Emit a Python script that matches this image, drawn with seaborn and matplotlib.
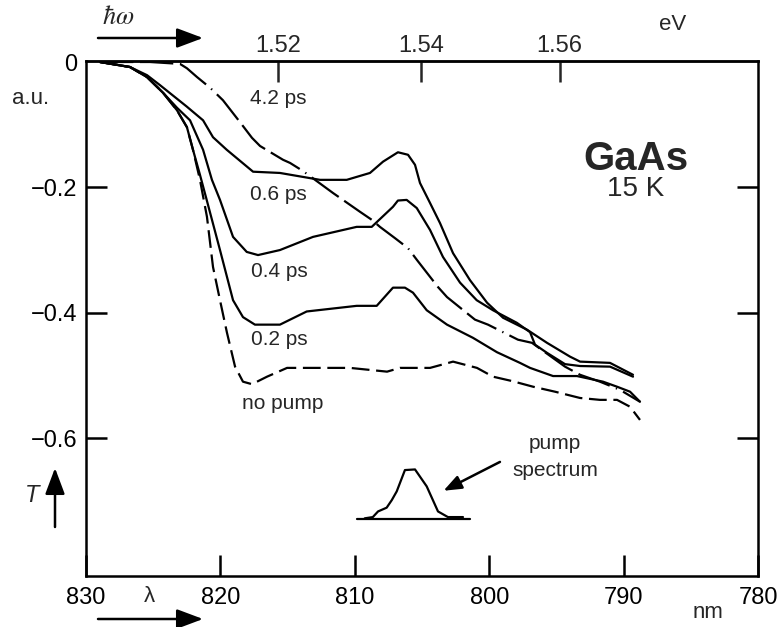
import matplotlib
matplotlib.use("Agg")
import matplotlib.pyplot as plt
from matplotlib.patches import FancyArrowPatch
import seaborn as sns
import pandas as pd

# Differential transmission spectra of GaAs at 15 K (wavelength in nm, T in a.u.)
wl_nopump = [828.96, 826.73, 825.46, 824.27, 823.23, 822.49, 822.04, 821.52, 821.00, 820.55,
             820.03, 819.51, 818.91, 818.32, 817.65, 816.53, 815.04, 812.59, 810.36, 807.60,
             806.64, 804.40, 802.69, 800.91, 799.72, 798.30, 796.74, 795.10, 793.24, 791.76,
             790.49, 789.52, 788.78]
t_nopump = [0.000, -0.008, -0.024, -0.049, -0.077, -0.104, -0.140, -0.188, -0.247, -0.327,
            -0.380, -0.432, -0.486, -0.510, -0.514, -0.502, -0.488, -0.488, -0.488, -0.494,
            -0.488, -0.488, -0.478, -0.488, -0.502, -0.509, -0.518, -0.526, -0.536, -0.539,
            -0.539, -0.550, -0.571]

wl_02 = [828.96, 826.73, 825.46, 824.27, 823.23, 822.49, 822.04, 821.52, 821.02, 820.03,
         819.06, 818.32, 817.43, 815.57, 813.58, 809.86, 808.37, 807.16, 806.27, 805.67,
         804.65, 803.14, 801.21, 799.42, 797.71, 796.96, 795.25, 793.47, 791.53, 790.49,
         789.52, 788.78]
t_02 = [0.000, -0.008, -0.024, -0.049, -0.077, -0.104, -0.140, -0.180, -0.220, -0.300,
        -0.380, -0.407, -0.419, -0.419, -0.398, -0.389, -0.389, -0.360, -0.360, -0.368,
        -0.396, -0.419, -0.440, -0.463, -0.480, -0.488, -0.501, -0.501, -0.510, -0.518,
        -0.526, -0.542]

wl_04 = [828.96, 826.73, 825.46, 824.27, 823.23, 822.26, 821.29, 820.63, 820.03, 819.06,
         818.04, 817.20, 815.57, 813.11, 809.86, 808.74, 807.16, 806.79, 806.14, 805.39,
         804.40, 803.44, 802.17, 800.93, 799.72, 797.95, 796.96, 796.59, 795.70, 794.36,
         793.24, 791.01, 789.30]
t_04 = [0.000, -0.008, -0.024, -0.049, -0.073, -0.093, -0.140, -0.188, -0.220, -0.279,
        -0.303, -0.308, -0.300, -0.279, -0.263, -0.263, -0.231, -0.221, -0.220, -0.233,
        -0.268, -0.311, -0.352, -0.380, -0.396, -0.416, -0.431, -0.451, -0.464, -0.482,
        -0.485, -0.486, -0.502]

wl_06 = [828.96, 826.73, 825.46, 824.49, 822.51, 821.29, 820.55, 819.53, 817.57, 815.57,
         812.59, 810.60, 808.87, 807.90, 806.79, 806.04, 805.52, 805.15, 804.40, 803.66,
         802.69, 801.43, 800.16, 798.97, 797.19, 795.70, 793.99, 793.24, 791.01, 789.30]
t_06 = [0.000, -0.008, -0.021, -0.037, -0.071, -0.093, -0.120, -0.140, -0.175, -0.177,
        -0.188, -0.188, -0.177, -0.159, -0.144, -0.148, -0.164, -0.193, -0.225, -0.257,
        -0.305, -0.348, -0.384, -0.408, -0.427, -0.448, -0.470, -0.478, -0.480, -0.499]

wl_42 = [828.96, 825.24, 823.01, 822.49, 821.74, 820.77, 819.81, 818.54, 817.65, 817.05,
         815.34, 814.82, 813.85, 811.62, 809.61, 808.72, 808.13, 807.01, 806.04, 805.37,
         803.81, 803.14, 801.06, 800.09, 797.86, 796.82, 794.36, 793.24, 791.76, 790.27,
         788.78]
t_42 = [0.000, 0.000, -0.003, -0.010, -0.024, -0.041, -0.061, -0.096, -0.121, -0.134,
        -0.156, -0.161, -0.174, -0.209, -0.239, -0.252, -0.263, -0.281, -0.297, -0.316,
        -0.359, -0.375, -0.411, -0.419, -0.443, -0.448, -0.486, -0.499, -0.510, -0.523,
        -0.542]

# Pump pulse spectrum, drawn on its own baseline
wl_pump = [809.26, 808.66, 808.27, 807.63, 807.25, 806.88, 806.27, 805.52, 804.65, 803.81,
           803.07, 801.95]
t_pump = [-0.728, -0.726, -0.717, -0.711, -0.699, -0.685, -0.651, -0.650, -0.677, -0.717,
          -0.726, -0.726]
wl_pump_base = [809.87, 801.43]
t_pump_base = [-0.729, -0.729]

curve_labels = ["4.2 ps", "0.6 ps", "0.4 ps", "0.2 ps", "no pump"]
label_wl = [815.7, 815.7, 815.6, 815.6, 815.4]
label_t = [-0.058, -0.212, -0.335, -0.443, -0.545]

x_ticks = [830, 820, 810, 800, 790, 780]
y_ticks = [0, -0.2, -0.4, -0.6]
ev_ticks = [1.52, 1.54, 1.56]

sns.set_theme(style="ticks")
plt.rcParams["font.family"] = ["Liberation Sans", "DejaVu Sans"]
plt.rcParams["mathtext.fontset"] = "stix"

W, H = 782, 627
fig = plt.figure(figsize=(W / 100, H / 100), dpi=100)
fig.patch.set_facecolor("white")
L, R, T_, B = 86, 758, 61, 576
ax = fig.add_axes([L / W, 1 - B / H, (R - L) / W, (B - T_) / H])
ax.set_facecolor("white")

lw = 1.6
series = [
    (wl_nopump, t_nopump, (0, (8, 3))),
    (wl_02, t_02, "-"),
    (wl_04, t_04, "-"),
    (wl_06, t_06, "-"),
    (wl_42, t_42, (0, (15, 3, 15, 3, 15, 3, 0.6, 3))),
    (wl_pump, t_pump, "-"),
    (wl_pump_base, t_pump_base, "-"),
]
for xs, ys, ls in series:
    df = pd.DataFrame({"wl": xs, "T": ys})
    sns.lineplot(data=df, x="wl", y="T", ax=ax, color="black", lw=lw,
                 linestyle=ls, sort=False, estimator=None, legend=False)

ax.set_xlim(830, 780)
ax.set_ylim(-0.820, 0.0016)
ax.set_xlabel("")
ax.set_ylabel("")
ax.set_xticks(x_ticks)
ax.set_xticklabels([str(v) for v in x_ticks])
ax.set_yticks(y_ticks)
ax.set_yticklabels(["0", "\u22120.2", "\u22120.4", "\u22120.6"])
ax.tick_params(axis="both", direction="in", length=15, width=1.8, labelsize=17,
               colors="black", pad=6, top=False, right=True)
ax.tick_params(axis="x", pad=8)
# the zero tick sits on the top frame line; keep only its label
zero_tick = ax.yaxis.get_major_ticks()[0]
zero_tick.tick1line.set_visible(False)
zero_tick.tick2line.set_visible(False)
for s in ax.spines.values():
    s.set_linewidth(1.8)
    s.set_color("black")

# photon energy scale on top
sec = ax.secondary_xaxis("top", functions=(lambda l: 1239.84 / l, lambda e: 1239.84 / e))
sec.set_xticks(ev_ticks)
sec.set_xticklabels(["1.52", "1.54", "1.56"])
sec.tick_params(direction="in", length=15, width=1.8, labelsize=17, pad=3)
sec.spines["top"].set_linewidth(1.8)

for lab, xw, yt in zip(curve_labels, label_wl, label_t):
    ax.text(xw, yt, lab, ha="center", va="center", fontsize=15)

ax.text(0.818, 0.81, "GaAs", transform=ax.transAxes, ha="center", va="center",
        fontsize=29, fontweight="bold")
ax.text(0.818, 0.752, "15 K", transform=ax.transAxes, ha="center", va="center",
        fontsize=20)

ax.text(795.1, -0.609, "pump", ha="center", va="center", fontsize=15)
ax.text(795.1, -0.651, "spectrum", ha="center", va="center", fontsize=15)
ax.annotate("", xy=(803.4, -0.684), xytext=(799.2, -0.638),
            arrowprops=dict(arrowstyle="-|>,head_length=0.9,head_width=0.35",
                            color="black", lw=1.8, shrinkA=0, shrinkB=0))


def fx(px):
    return px / W


def fy(py):
    return 1 - py / H


arrow_kw = dict(arrowstyle="-|>,head_length=0.8,head_width=0.3", color="black",
                lw=1.8, shrinkA=0, shrinkB=0, mutation_scale=20)
fig.text(fx(118), fy(17), r"$\hbar\omega$", ha="center", va="center", fontsize=19)
fig.add_artist(FancyArrowPatch((fx(98), fy(38)), (fx(203), fy(38)),
                               transform=fig.transFigure, **arrow_kw))
fig.text(fx(673), fy(25), "eV", ha="center", va="center", fontsize=16)
fig.text(fx(31), fy(98), "a.u.", ha="center", va="center", fontsize=16)
fig.text(fx(32), fy(496), "T", ha="center", va="center", fontsize=17, style="italic")
fig.add_artist(FancyArrowPatch((fx(55), fy(527)), (fx(55), fy(468)),
                               transform=fig.transFigure, **arrow_kw))
fig.text(fx(149), fy(597), "\u03bb", ha="center", va="center", fontsize=16)
fig.add_artist(FancyArrowPatch((fx(98), fy(619)), (fx(203), fy(619)),
                               transform=fig.transFigure, **arrow_kw))
fig.text(fx(708), fy(613), "nm", ha="center", va="center", fontsize=16)

fig.savefig("out.png", dpi=100, facecolor="white")
